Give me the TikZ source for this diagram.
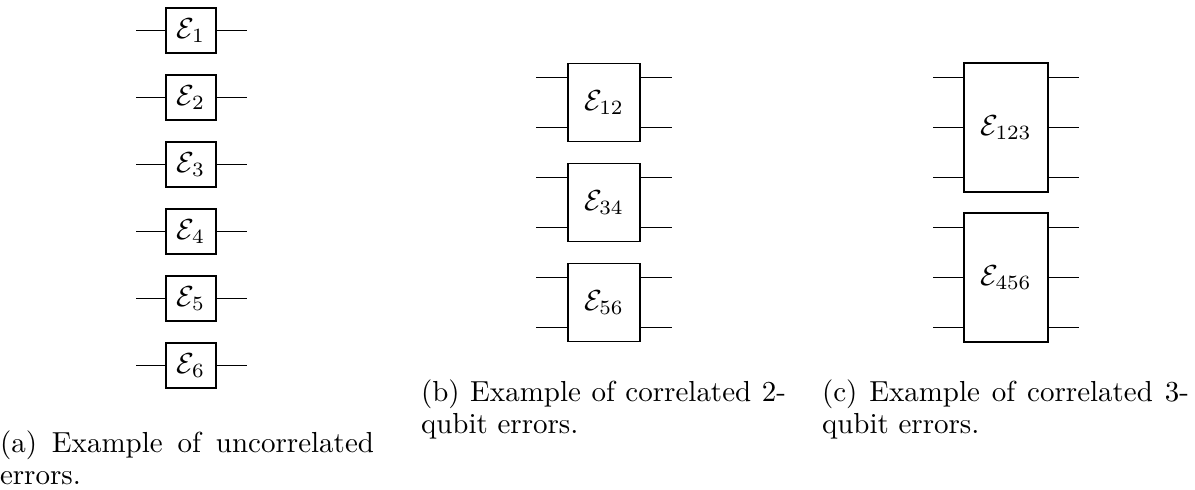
\documentclass[tikz,border=0pt]{standalone}
\newdimen\pxu \pxu=0.345pt
\tikzset{
  errbox/.style={draw, inner sep=0pt, line width=0.45pt},
  wire/.style={line width=0.45pt},
  capline/.style={anchor=base west, inner sep=0pt, outer sep=0pt},
}
\begin{document}
\begin{tikzpicture}[x=0.345pt,y=-0.345pt]
\useasboundingbox (0,0) rectangle (1195,489);

% (a) single-qubit error channels
\foreach \i in {1,...,6}{
  \pgfmathsetmacro\yy{30.5+67*(\i-1)}
  \node[errbox, minimum width=50*\pxu, minimum height=45*\pxu] (a\i) at (191,\yy) {$\mathcal{E}_{\i}$};
  \coordinate (a\i l) at (136,\yy);
  \coordinate (a\i r) at (247,\yy);
  \draw[wire] (a\i l) -- (a\i.west);
  \draw[wire] (a\i.east) -- (a\i r);
}

% (b) two-qubit correlated error channels
\foreach \lab [count=\k from 0] in {12,34,56}{
  \pgfmathsetmacro\yy{102.5+100*\k}
  \node[errbox, minimum width=72*\pxu, minimum height=78*\pxu] (b\lab) at (604,\yy) {$\mathcal{E}_{\lab}$};
  \foreach \d [count=\w] in {-25,25}{
    \coordinate (b\lab l\w) at (536,\yy+\d);
    \coordinate (b\lab r\w) at (672,\yy+\d);
    \draw[wire] (b\lab l\w) -- (b\lab l\w -| b\lab.west);
    \draw[wire] (b\lab r\w -| b\lab.east) -- (b\lab r\w);
  }
}

% (c) three-qubit correlated error channels
\foreach \lab [count=\k from 0] in {123,456}{
  \pgfmathsetmacro\yy{127.5+150*\k}
  \node[errbox, minimum width=84*\pxu, minimum height=129*\pxu] (c\lab) at (1006,\yy) {$\mathcal{E}_{\lab}$};
  \foreach \d [count=\w] in {-50,0,50}{
    \coordinate (c\lab l\w) at (933,\yy+\d);
    \coordinate (c\lab r\w) at (1079,\yy+\d);
    \draw[wire] (c\lab l\w) -- (c\lab l\w -| c\lab.west);
    \draw[wire] (c\lab r\w -| c\lab.east) -- (c\lab r\w);
  }
}

% sub-captions
\node[capline] (capa1) at (0,452) {\hbox to 374\pxu{(a) Example of uncorrelated}};
\node[capline] (capa2) at (0,484) {errors.};
\node[capline] (capb1) at (421,401) {\hbox to 365\pxu{(b) Example of correlated 2-}};
\node[capline] (capb2) at (421,433) {qubit errors.};
\node[capline] (capc1) at (822,401) {\hbox to 367\pxu{(c) Example of correlated 3-}};
\node[capline] (capc2) at (822,433) {qubit errors.};
\end{tikzpicture}
\end{document}
